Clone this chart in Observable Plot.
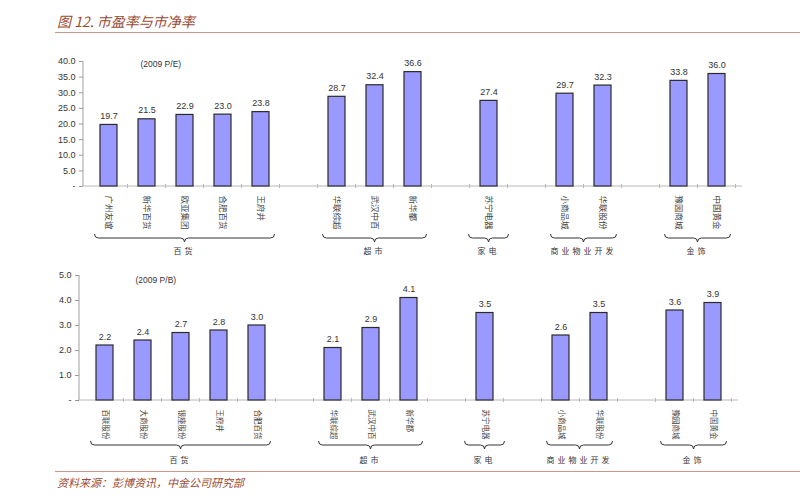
<!DOCTYPE html>
<html><head><meta charset="utf-8">
<script src="https://cdn.jsdelivr.net/npm/d3@7"></script>
<script src="https://cdn.jsdelivr.net/npm/@observablehq/plot@0.6"></script>
<style>
body{margin:0;background:#fff;}
#wrap{position:relative;width:800px;height:500px;overflow:hidden;font-family:"Liberation Sans",Arial,sans-serif;background:#fff;}
.title{position:absolute;left:57px;top:11px;font-family:"Noto Sans CJK SC",sans-serif;font-style:italic;font-size:14px;color:#9a4b33;white-space:nowrap;}
.hline{position:absolute;left:55px;width:745px;height:0;border-top:1.5px solid #c9998a;}
.foot{position:absolute;left:57px;top:474px;font-family:"Noto Sans CJK SC",sans-serif;font-style:italic;font-size:11px;color:#9a4b33;white-space:nowrap;}
.panel{position:absolute;left:0;}
[aria-label^="y-axis"] path,[aria-label^="y-axis"] line{stroke:#9a9a9a}
</style>
</head><body>
<div id="wrap">
  <div class="title">图 12. 市盈率与市净率</div>
  <div class="hline" style="top:32px"></div>
  <div class="panel" id="pe" style="top:40px"></div>
  <div class="panel" id="pb" style="top:250px"></div>
  <div class="hline" style="top:471px"></div>
  <div class="foot">资料来源：彭博资讯，中金公司研究部</div>
</div>
<script>
// ---- data ----
const groupNames = ["百货", "超市", "家电", "商业物业开发", "金饰"];
const catGroups = ["百货","百货","百货","百货","百货","超市","超市","超市","家电","商业物业开发","商业物业开发","金饰","金饰"];

const peCats = ["广州友谊","新华百货","欧亚集团","合肥百货","王府井","华联综超","武汉中百","新华都","苏宁电器","小商品城","华联股份","豫园商城","中国黄金"];
const peVals = [19.7, 21.5, 22.9, 23.0, 23.8, 28.7, 32.4, 36.6, 27.4, 29.7, 32.3, 33.8, 36.0];
const peTicks = [0, 5, 10, 15, 20, 25, 30, 35, 40];

const pbCats = ["百联股份","大商股份","银座股份","王府井","合肥百货","华联综超","武汉中百","新华都","苏宁电器","小商品城","华联股份","豫园商城","中国黄金"];
const pbVals = [2.2, 2.4, 2.7, 2.8, 3.0, 2.1, 2.9, 4.1, 3.5, 2.6, 3.5, 3.6, 3.9];
const pbTicks = [0, 1, 2, 3, 4, 5];

function makePanel(cfg) {
  const {cats, vals, ticks, note, height, mTop, mBottom, mLeft, mRight, braceOff, labelOff, noteDx, noteDy, catSize} = cfg;
  // band domain with one empty slot between groups
  const domain = [];
  cats.forEach((c, i) => {
    if (i > 0 && catGroups[i] !== catGroups[i - 1]) domain.push("gap" + i);
    domain.push(c);
  });
  const data = cats.map((c, i) => ({c, v: vals[i], g: catGroups[i]}));

  const deco = (index, scales, values, dims) => {
    const x = scales.x;
    const bw = x.bandwidth(), step = x.step();
    const y0 = dims.height - dims.marginBottom;
    const g = d3.create("svg:g");
    g.append("line").attr("x1", dims.marginLeft).attr("x2", dims.marginLeft)
      .attr("y1", dims.marginTop).attr("y2", y0).attr("stroke", "#a0a0a0");
    g.append("line").attr("x1", dims.marginLeft).attr("x2", dims.width - dims.marginRight)
      .attr("y1", y0).attr("y2", y0).attr("stroke", "#b8b8b8");
    domain.forEach(d => {
      const bx = x(d) + bw / 2 + step / 2;
      g.append("line").attr("x1", bx).attr("x2", bx).attr("y1", y0 - 2).attr("y2", y0 + 2).attr("stroke", "#b8b8b8");
    });
    groupNames.forEach(name => {
      const members = cats.filter((c, i) => catGroups[i] === name);
      const cx0 = x(members[0]) + bw / 2, cx1 = x(members[members.length - 1]) + bw / 2;
      const pad = members.length === 1 ? 20 : 14;
      const x1 = cx0 - pad, x2 = cx1 + pad, xm = (x1 + x2) / 2;
      const yb = y0 + braceOff, s = 4;
      const p = `M${x1},${yb} Q${x1},${yb + s} ${x1 + s},${yb + s} L${xm - s},${yb + s} Q${xm},${yb + s} ${xm},${yb + 2 * s} Q${xm},${yb + s} ${xm + s},${yb + s} L${x2 - s},${yb + s} Q${x2},${yb + s} ${x2},${yb}`;
      g.append("path").attr("d", p).attr("fill", "none").attr("stroke", "#333").attr("stroke-width", 1);
      g.append("text").attr("x", xm).attr("y", y0 + labelOff).attr("text-anchor", "middle")
        .attr("dominant-baseline", "middle").attr("font-size", 8).attr("fill", "#333")
        .attr("letter-spacing", "3px").attr("font-family", "'Noto Sans CJK SC'").text(name);
    });
    return g.node();
  };

  return Plot.plot({
    width: 800, height,
    marginTop: mTop, marginBottom: mBottom, marginLeft: mLeft, marginRight: mRight,
    style: {fontFamily: "'Liberation Sans', Arial, sans-serif", fontSize: "9px", color: "#333", background: "transparent"},
    x: {domain, axis: null, paddingInner: 0.56, paddingOuter: 0.28},
    y: {domain: [ticks[0], ticks[ticks.length - 1]], ticks, tickSize: 4, tickPadding: 4, label: null,
        tickFormat: d => d === 0 ? "-" : d.toFixed(1)},
    marks: [
      deco,
      Plot.barY(data, {x: "c", y: "v", fill: "#9999ff", stroke: "#2a2a2a", strokeWidth: 1.2}),
      Plot.text(data, {x: "c", y: "v", text: d => d.v.toFixed(1), dy: -6, lineAnchor: "bottom", fontSize: 9, fill: "#333"}),
      Plot.text(data, {x: "c", frameAnchor: "bottom", text: "c", rotate: 90, textAnchor: "start", lineAnchor: "middle",
        dy: 9, fontSize: catSize, fill: "#444", fontFamily: "'Noto Sans CJK SC'"}),
      Plot.text([note], {frameAnchor: "top-left", text: d => d, dx: noteDx, dy: noteDy, lineAnchor: "middle", fontSize: 8.5, fill: "#333"})
    ]
  });
}

document.getElementById("pe").append(makePanel({
  cats: peCats, vals: peVals, ticks: peTicks, note: "(2009 P/E)",
  height: 225, mTop: 21, mBottom: 79, mLeft: 83, mRight: 58,
  braceOff: 48, labelOff: 66, noteDx: 57, noteDy: 3, catSize: 8.5
}));
document.getElementById("pb").append(makePanel({
  cats: pbCats, vals: pbVals, ticks: pbTicks, note: "(2009 P/B)",
  height: 218, mTop: 25, mBottom: 68, mLeft: 79, mRight: 62,
  braceOff: 41, labelOff: 61, noteDx: 56, noteDy: 5, catSize: 7.5
}));
</script>
</body></html>
